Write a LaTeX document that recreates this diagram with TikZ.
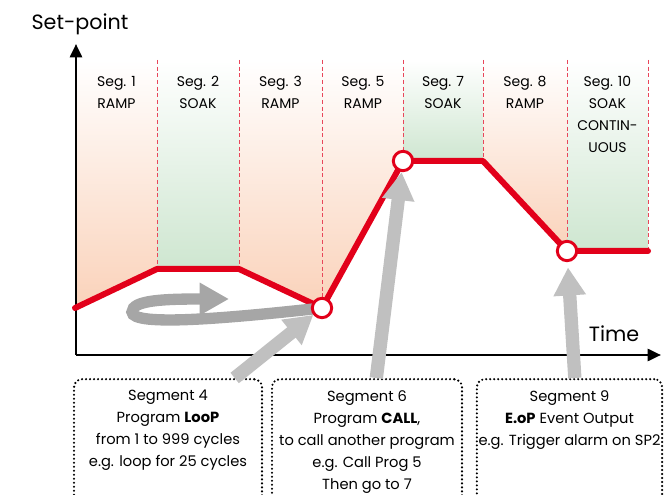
\documentclass[tikz,border=0pt]{standalone}
\usepackage{fontspec}
\setmainfont{Poppins}
\usepackage{xcolor}
\usetikzlibrary{arrows.meta,positioning}
\definecolor{sprd}{RGB}{226,0,26}
\definecolor{divrd}{RGB}{232,70,90}
\definecolor{rampc}{RGB}{250,210,186}
\definecolor{soakc}{RGB}{206,230,208}
\definecolor{loopg}{RGB}{166,166,166}
\definecolor{ptrg}{RGB}{192,192,192}
\tikzset{
  segtxt/.style={font=\fontsize{10.5}{16.5}\selectfont, align=center, inner sep=0pt, anchor=north},
  axlbl/.style={font=\fontsize{15.5}{18}\selectfont, inner sep=0pt},
  segdiv/.style={draw=divrd, line width=0.6pt, dash pattern=on 3pt off 2pt},
  axis/.style={draw=black, line width=2pt, -{Triangle[length=10pt,width=9pt]}},
  profile/.style={draw=sprd, line width=4.5pt, line join=round, line cap=round},
  ptmark/.style={circle, draw=sprd, fill=white, line width=2.2pt, minimum size=14.5pt, inner sep=0pt},
  loopar/.style={draw=loopg, line width=8.5pt, -{Triangle[length=22pt,width=23pt]}},
  ptr/.style={draw=ptrg, line width=10pt, -{Triangle[length=21pt,width=23pt]}},
  infobox/.style={draw, line width=1.8pt, dash pattern=on 0pt off 3pt, line cap=round, rounded corners=6pt,
    anchor=north, minimum height=130pt, inner sep=0pt},
  boxtxt/.style={font=\fontsize{11}{16.5}\selectfont, align=center, inner sep=0pt, anchor=north},
}

\begin{document}
\begin{tikzpicture}[x=0.75pt,y=0.75pt,yscale=-1,xscale=1]
\useasboundingbox (0,0) rectangle (668,495);

\coordinate (c0) at (75,308);
\coordinate (c1) at (157,269);
\coordinate (c2) at (239,269);
\coordinate (c4) at (322,308);
\coordinate (c6) at (403,161);
\coordinate (c7) at (483,161);
\coordinate (c9) at (567,251);
\coordinate (c10) at (648,251);

\shade [top color=white, bottom color=rampc] (76,60) -- (157,60) -- (c1) -- (c0) -- cycle;
\shade [top color=white, bottom color=soakc] (157,60) -- (239,60) -- (c2) -- (c1) -- cycle;
\shade [top color=white, bottom color=rampc] (239,60) -- (322,60) -- (c4) -- (c2) -- cycle;
\shade [top color=white, bottom color=rampc] (322,60) -- (403,60) -- (c6) -- (c4) -- cycle;
\shade [top color=white, bottom color=soakc] (403,60) -- (483,60) -- (c7) -- (c6) -- cycle;
\shade [top color=white, bottom color=rampc] (483,60) -- (567,60) -- (c9) -- (c7) -- cycle;
\shade [top color=white, bottom color=soakc] (567,60) -- (648,60) -- (c10) -- (c9) -- cycle;

\draw [segdiv] (157,60) -- (c1);
\draw [segdiv] (239,60) -- (c2);
\draw [segdiv] (322,60) -- (c4);
\draw [segdiv] (403,60) -- (c6);
\draw [segdiv] (483,60) -- (c7);
\draw [segdiv] (567,60) -- (c9);
\draw [segdiv] (648,60) -- (c10);

\coordinate (org) at (76,355);
\coordinate (ytop) at (76,44);
\coordinate (xend) at (661,355);
\draw [axis] (org) -- (ytop);
\draw [axis] (org) -- (xend);
\node [axlbl] (spl) at (80,24) {Set-point};
\node [axlbl] (tml) at (614,334) {Time};

\node [segtxt] (s1) at (116.5,76) {Seg. 1\\RAMP};
\node [segtxt] (s2) at (198,76) {Seg. 2\\SOAK};
\node [segtxt] (s3) at (280.5,76) {Seg. 3\\RAMP};
\node [segtxt] (s5) at (363,76) {Seg. 5\\RAMP};
\node [segtxt] (s7) at (443,76) {Seg. 7\\SOAK};
\node [segtxt] (s8) at (525,76) {Seg. 8\\RAMP};
\node [segtxt] (s10) at (607.5,76) {Seg. 10\\SOAK\\CONTIN-\\UOUS};

\draw [profile] (c0) -- (c1) -- (c2) -- (c4) -- (c6) -- (c7) -- (c9) -- (c10);

\draw [loopar] (c4) .. controls (230,318) and (132,327) .. (132,312) .. controls (132,300) and (165,299) .. (229,299);

\node [ptmark] (p4) at (c4) {};
\node [ptmark] (p6) at (c6) {};
\node [ptmark] (p9) at (c9) {};

\node [infobox, minimum width=141pt] (box4) at (168,378) {};
\node [infobox, minimum width=142.5pt] (box6) at (367,378) {};
\node [infobox, minimum width=139pt] (box9) at (569.5,378) {};

\draw [ptr] ([xshift=50pt]box4.north) -- (p4);
\draw [ptr] ([xshift=7pt]box6.north) -- (p6);
\draw [ptr, shorten >=4pt] ([xshift=4pt]box9.north) -- (p9);

\node [boxtxt, below=9pt of box4.north] (t4) {Segment 4\\Program \textbf{LooP}\\from 1 to 999 cycles\\e.g. loop for 25 cycles};
\node [boxtxt, below=9pt of box6.north] (t6) {Segment 6\\Program \textbf{CALL},\\to call another program\\e.g. Call Prog 5\\Then go to 7};
\node [boxtxt, below=9pt of box9.north] (t9) {Segment 9\\\textbf{E.oP} Event Output\\e.g. Trigger alarm on SP2};

\end{tikzpicture}
\end{document}
